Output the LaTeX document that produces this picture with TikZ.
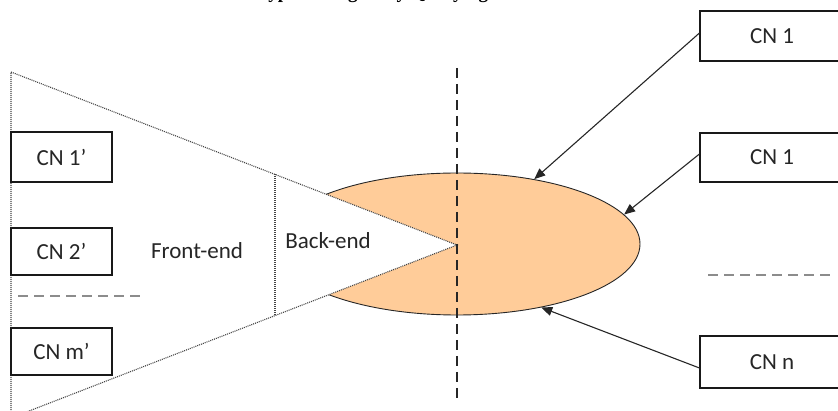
\documentclass[tikz,border=0pt]{standalone}
\usepackage{fontspec}
\setmainfont{Carlito}
\newfontfamily\headfont{Liberation Serif}
\usetikzlibrary{arrows.meta,shapes.geometric}
\definecolor{peach}{HTML}{FFCC99}
\definecolor{dotgray}{HTML}{444444}
\definecolor{dashgray}{HTML}{8C8C8C}
\tikzset{
  lbl/.style={font=\fontsize{23}{26}\selectfont, text=black!85, inner sep=0pt},
  cnbox/.style={lbl, draw=black!90, line width=1.1pt, fill=white,
                minimum width=101pt, minimum height=49pt},
  rbox/.style={cnbox, minimum width=144pt},
  edgeline/.style={draw=dotgray, line width=1.1pt, dash pattern=on 1pt off 1pt},
  axisline/.style={draw=black!85, line width=1.1pt, dash pattern=on 10pt off 6pt},
  gapline/.style={draw=dashgray, line width=2pt, dash pattern=on 10pt off 6pt},
  feed/.style={draw=black!85, line width=1.1pt, -{Triangle[length=11pt,width=9pt]}}
}
\begin{document}
\begin{tikzpicture}[x=1pt,y=-1pt]
\useasboundingbox (0,0) rectangle (838,411);
\clip (0,0) rectangle (838,411);

% heading, mostly above the page edge
\node[anchor=base west, inner sep=0pt, font=\headfont\bfseries\fontsize{19}{22}\selectfont]
  (title) at (257,-1.5) {Typical Single-key Querying Process};

% key space: filled ellipse
\node[ellipse, draw=black!85, line width=0.9pt, fill=peach,
      minimum width=366pt, minimum height=142pt, inner sep=0pt] (blob) at (457,244) {};

% front-end / back-end wedge
\coordinate (apex) at (457,245);
\coordinate (topleft) at (11,72);
\coordinate (botleft) at (11,418);
\coordinate (dtop) at (275,174.5);
\coordinate (dbot) at (275,315.5);
\fill[white] (topleft) -- (apex) -- (botleft) -- cycle;
\draw[edgeline] (botleft) -- (topleft) -- (apex) -- (botleft);
\draw[edgeline] (dtop) -- (dbot);

% vertical axis
\coordinate (axtop) at (457,68);
\coordinate (axbot) at (457,402);
\draw[axisline] (axtop) -- (axbot);

% labels inside the wedge
\node[lbl] (fe) at (197,251) {Front-end};
\node[lbl] (be) at (328,241) {Back-end};

% client nodes on the left
\node[cnbox, minimum height=50pt] (c1p) at (61.5,157) {CN 1’};
\node[cnbox, minimum height=47pt] (c2p) at (61.5,251.5) {CN 2’};
\node[cnbox, minimum height=47pt] (cmp) at (61.5,351.5) {CN m’};
\coordinate (lg1) at (18,296);
\coordinate (lg2) at (142,296);
\draw[gapline] (lg1) -- (lg2);

% client nodes on the right
\node[rbox, minimum height=50pt] (r1) at (772,36) {CN 1};
\node[rbox, minimum height=49pt] (r2) at (772,157.5) {CN 1};
\node[rbox, minimum height=52pt] (rn) at (772,362) {CN n};
\coordinate (rg1) at (708,275);
\coordinate (rg2) at (832,275);
\draw[gapline] (rg1) -- (rg2);

% requests into the key space
\draw[feed] ([yshift=3pt]r1.west) -- (blob.40.5);
\draw[feed] ([yshift=3.5pt]r2.west) -- (blob.10.6);
\draw[feed] ([yshift=-6pt]rn.west) -- (blob.-37.6);
\end{tikzpicture}
\end{document}
